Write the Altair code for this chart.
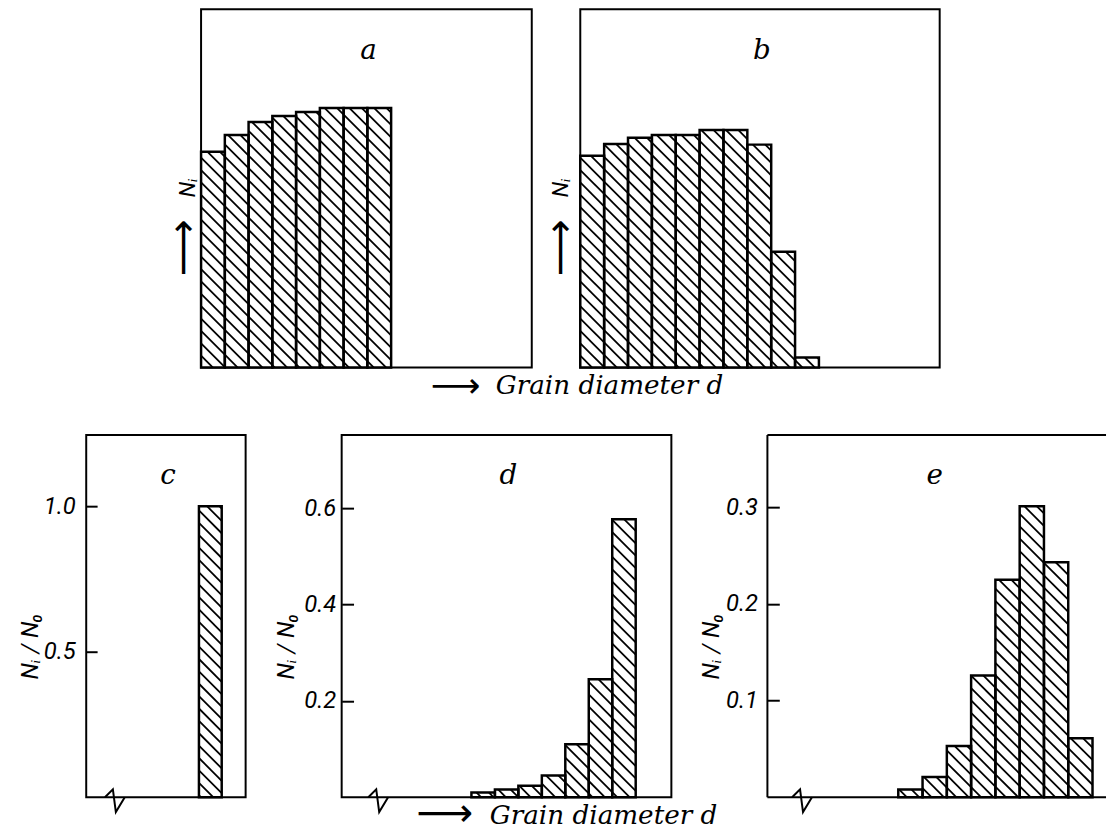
import math
import altair as alt
import pandas as pd

# ---------------- data ----------------
a_heights = [0.602, 0.649, 0.685, 0.702, 0.713, 0.724, 0.724, 0.724]
b_heights = [0.591, 0.624, 0.641, 0.649, 0.649, 0.663, 0.663, 0.622, 0.323, 0.028]
c_values = [1.0]
d_values = [0.010, 0.016, 0.024, 0.045, 0.110, 0.245, 0.577]
e_values = [0.008, 0.021, 0.053, 0.126, 0.225, 0.301, 0.243, 0.061]

c_ticks = [0.5, 1.0]
d_ticks = [0.2, 0.4, 0.6]
e_ticks = [0.1, 0.2, 0.3]

panel_letters = ["a", "b", "c", "d", "e"]
first_bin = [0.0, 0.0, 4.95, 5.53, 5.39]       # left edge of first bar (bin widths)
x_span = [13.92, 15.06, 7.0, 14.05, 13.62]      # bin widths across each frame
y_span = [1.0, 1.0, 1.245, 0.752, 0.3747]       # value at top of each frame
break_at = [0.91, 1.22, 1.10]                    # axis-break position for c, d, e (bin widths)

x_title = "Grain diameter d"
top_y_title = "Nᵢ"
bottom_y_title = "Nᵢ / N₀"
ARROW = "⟶"

# ---------------- style ----------------
W = [334, 363, 161, 333, 334]
H = [362, 362, 366, 366, 366]
HATCH_STEP = 12.5
LABEL_FONT = "Roboto"
SERIF = "DejaVu Serif"


def hatch_rows(lefts, rights, tops, w, h, xs, ys, step=HATCH_STEP):
    rows = []
    for xl, xr, v in zip(lefts, rights, tops):
        pxl, pxr = xl / xs * w, xr / xs * w
        pyt, pyb = h - v / ys * h, h
        kmin = math.floor((pyt - pxr) / step)
        kmax = math.ceil((pyb - pxl) / step)
        for k in range(kmin, kmax + 1):
            c = k * step
            lo = max(pxl, pyt - c)
            hi = min(pxr, pyb - c)
            if hi - lo > 0.6:
                rows.append({"hx": lo / w * xs, "hx2": hi / w * xs,
                             "hy": (h - (lo + c)) / h * ys,
                             "hy2": (h - (hi + c)) / h * ys})
    return pd.DataFrame(rows)


def arrow_layer(px, py, size, angle):
    return alt.Chart(pd.DataFrame({"t": [ARROW]})).mark_text(
        font="DejaVu Sans", fontSize=size, angle=angle, align="center",
        baseline="middle", color="black").encode(
        text="t:N", x=alt.value(px), y=alt.value(py))


def make_panel(idx, values, xaxis, yaxis, brk=None, frame=True, extra=()):
    w, h, xs, ys = W[idx], H[idx], x_span[idx], y_span[idx]
    x0 = first_bin[idx]
    n = len(values)
    lefts = [x0 + i for i in range(n)]
    rights = [x0 + i + 1 for i in range(n)]
    bars = pd.DataFrame({"x": lefts, "x2": rights, "v": values, "base": [0.0] * n})
    xsc = alt.Scale(domain=[0, xs], nice=False, zero=False)
    ysc = alt.Scale(domain=[0, ys], nice=False, zero=False)

    fill = alt.Chart(bars).mark_rect(fill="white", strokeOpacity=0).encode(
        x=alt.X("x:Q", scale=xsc, axis=xaxis), x2="x2:Q",
        y=alt.Y("v:Q", scale=ysc, axis=yaxis), y2="base:Q")
    hatch = alt.Chart(hatch_rows(lefts, rights, values, w, h, xs, ys)).mark_rule(
        color="black", strokeWidth=1.8).encode(
        x=alt.X("hx:Q", scale=xsc, axis=xaxis), x2="hx2:Q",
        y=alt.Y("hy:Q", scale=ysc, axis=yaxis), y2="hy2:Q")
    outline = alt.Chart(bars).mark_rect(fillOpacity=0, stroke="black", strokeWidth=2.5).encode(
        x=alt.X("x:Q", scale=xsc, axis=xaxis), x2="x2:Q",
        y=alt.Y("v:Q", scale=ysc, axis=yaxis), y2="base:Q")
    letter = alt.Chart(pd.DataFrame({"t": [panel_letters[idx]]})).mark_text(
        font=SERIF, fontStyle="italic", fontSize=28, align="center",
        baseline="alphabetic", color="black").encode(
        text="t:N", x=alt.value(w / 2 + 2), y=alt.value(50))
    layers = [fill, hatch, outline, letter]

    if brk is not None:
        # small zig-zag axis-break symbol on the baseline (pixel offsets -> data)
        offs = [(-2, 0), (6, -8), (9, 15), (18, 0)]
        bpx = brk / xs * w
        zz = pd.DataFrame({
            "zx": [(bpx + dx) / w * xs for dx, dy in offs],
            "zy": [-dy / h * ys for dx, dy in offs],
            "i": list(range(len(offs)))})
        layers.append(alt.Chart(zz).mark_line(color="black", strokeWidth=2).encode(
            x=alt.X("zx:Q", scale=xsc, axis=xaxis),
            y=alt.Y("zy:Q", scale=ysc, axis=yaxis), order="i:Q"))

    if not frame:
        one = pd.DataFrame({"k": [0]})
        layers.append(alt.Chart(one).mark_rule(color="black", strokeWidth=2).encode(
            x=alt.value(0), x2=alt.value(w + 8), y=alt.value(0)))
        layers.append(alt.Chart(one).mark_rule(color="black", strokeWidth=2).encode(
            x=alt.value(0), y=alt.value(0), y2=alt.value(h)))
        layers.append(alt.Chart(one).mark_rule(color="black", strokeWidth=2).encode(
            x=alt.value(0), x2=alt.value(w + 8), y=alt.value(h)))

    layers.extend(extra)
    ch = alt.layer(*layers).properties(width=w, height=h)
    if not frame:
        ch = ch.properties(view=alt.ViewBackground(stroke="transparent"))
    return ch


def no_x_axis():
    return alt.Axis(labels=False, ticks=False, domain=False, grid=False, title="")


def x_title_axis(tx, ty):
    return alt.Axis(labels=False, ticks=False, domain=False, grid=False,
                    title=x_title, titleFont=SERIF, titleFontSize=26.5,
                    titleFontStyle="italic", titleFontWeight="normal",
                    titleColor="black", titleX=tx, titleY=ty,
                    titleAlign="center", titleBaseline="alphabetic")


def top_y_axis(tx):
    return alt.Axis(labels=False, ticks=False, domain=False, grid=False,
                    title=top_y_title, titleFont=LABEL_FONT, titleFontSize=23,
                    titleFontStyle="italic", titleFontWeight="normal",
                    titleColor="black", titleAngle=270, titleX=tx, titleY=180,
                    titleAlign="center", titleBaseline="alphabetic")


def bottom_y_axis(ticks, tick_len, pad):
    return alt.Axis(values=ticks, format=".1f", grid=False, domain=False,
                    offset=-tick_len, tickSize=tick_len, tickWidth=2, tickColor="black",
                    labelFont=LABEL_FONT, labelFontSize=24, labelFontStyle="italic",
                    labelColor="black", labelPadding=pad,
                    title=bottom_y_title, titleFont=LABEL_FONT, titleFontSize=24,
                    titleFontStyle="italic", titleFontWeight="normal",
                    titleColor="black", titleAngle=270, titleX=-49 - tick_len,
                    titleY=213, titleAlign="center", titleBaseline="alphabetic")


pa = make_panel(0, a_heights, no_x_axis(), top_y_axis(-7),
                extra=[arrow_layer(-17, 241, 40, 270)])
pb = make_panel(1, b_heights, x_title_axis(29, 26), top_y_axis(-13),
                extra=[arrow_layer(-19, 241, 40, 270), arrow_layer(-126, 381, 35, 0)])
pc = make_panel(2, c_values, no_x_axis(), bottom_y_axis(c_ticks, 11, 11), brk=break_at[0])
pd_ = make_panel(3, d_values, x_title_axis(264, 27), bottom_y_axis(d_ticks, 12, 6),
                 brk=break_at[1], extra=[arrow_layer(104, 383, 40, 0)])
pe = make_panel(4, e_values, no_x_axis(), bottom_y_axis(e_ticks, 12, 10),
                brk=break_at[2], frame=False)

spacer = alt.Chart(pd.DataFrame({"k": [0]})).mark_point(opacity=0).encode(
    x=alt.X("k:Q", axis=None), y=alt.Y("k:Q", axis=None)).properties(
    width=67, height=362, view=alt.ViewBackground(stroke="transparent"))

top = alt.hconcat(spacer, pa, pb, spacing=49, bounds="flush")
bottom = alt.hconcat(pc, pd_, pe, spacing=97, bounds="flush")

chart = alt.vconcat(top, bottom, spacing=28).properties(
    padding={"left": 10, "top": -4, "right": 0, "bottom": 0},
    background="white",
).configure_view(stroke="black", strokeWidth=2)

chart.save("out.html", embed_options={"renderer": "svg", "actions": False})
